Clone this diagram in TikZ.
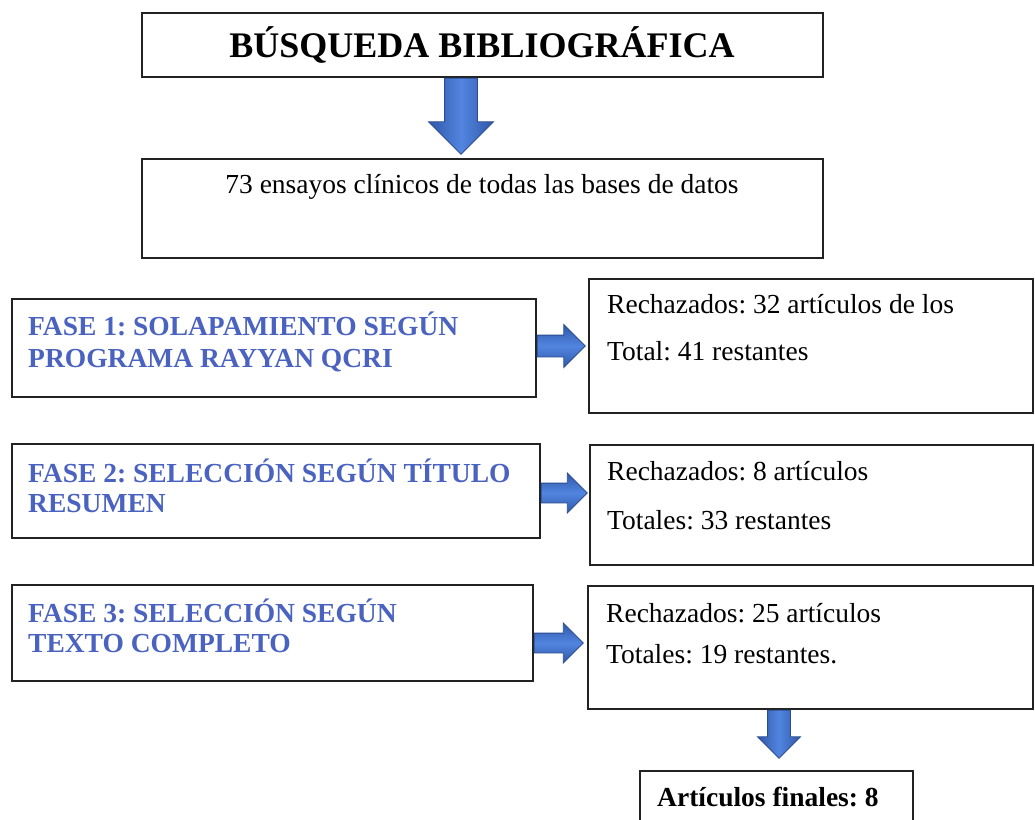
\documentclass[tikz,border=0pt]{standalone}
\usepackage{fontspec}
\setmainfont{Liberation Serif}
\frenchspacing
\usetikzlibrary{shapes.arrows,fit,calc}
\definecolor{fasecol}{HTML}{4A62C0}
\definecolor{arredge}{HTML}{2B4C8F}
\definecolor{arrdark}{HTML}{2F58A8}
\definecolor{arrlight}{HTML}{5285E0}
\definecolor{boxline}{HTML}{222222}
\begin{document}
\begin{tikzpicture}[x=1pt,y=-1pt,
  box/.style={draw=boxline, line width=1.6pt, inner sep=0pt, fill=white},
  txt/.style={inner sep=0pt, font=\fontsize{27.5pt}{33pt}\selectfont, text=black},
  fasetxt/.style={inner sep=0pt, font=\fontsize{27.5pt}{33pt}\selectfont\bfseries, text=fasecol},
  vblock/.style={shape=single arrow, single arrow tip angle=90,
     shape border rotate=270, draw=arredge, line width=0.8pt,
     left color=arrdark, right color=arrdark, middle color=arrlight},
  hblock/.style={shape=single arrow, single arrow tip angle=90,
     draw=arredge, line width=0.8pt,
     top color=arrdark, bottom color=arrdark, middle color=arrlight}
]
\useasboundingbox (0,0) rectangle (1035,819);
\clip (0,0) rectangle (1035,819);
\fill[white] (0,0) rectangle (1035,819);

% top boxes
\node[box, fit={(142,13) (823,77)}] (t) {};
\node[txt, anchor=base, font=\fontsize{36pt}{40pt}\selectfont\bfseries] (tt) at (482,57) {BÚSQUEDA BIBLIOGRÁFICA};
\node[box, fit={(142,159) (823,258)}] (b2) {};
\node[txt, anchor=base] (b2t) at (482,193) {73 ensayos clínicos de todas las bases de datos};

% phase boxes
\node[box, fit={(12,299) (536,397)}] (f1) {};
\node[fasetxt, anchor=base west] (f1a) at (28,335) {FASE 1: SOLAPAMIENTO SEGÚN};
\node[fasetxt, anchor=base west] (f1b) at (28,367) {PROGRAMA RAYYAN QCRI};
\node[box, fit={(589,279) (1033,413)}] (r1) {};
\node[txt, anchor=base west] (r1a) at (607,313) {Rechazados: 32 artículos de los};
\node[txt, anchor=base west] (r1b) at (607,360) {Total: 41 restantes};

\node[box, fit={(12,444) (540,538)}] (f2) {};
\node[fasetxt, anchor=base west] (f2a) at (28,482) {FASE 2: SELECCIÓN SEGÚN TÍTULO};
\node[fasetxt, anchor=base west] (f2b) at (28,512) {RESUMEN};
\node[box, fit={(590,445) (1033,565)}] (r2) {};
\node[txt, anchor=base west] (r2a) at (607,480) {Rechazados: 8 artículos};
\node[txt, anchor=base west] (r2b) at (607,529) {Totales: 33 restantes};

\node[box, fit={(12,585) (533,681)}] (f3) {};
\node[fasetxt, anchor=base west] (f3a) at (28,622) {FASE 3: SELECCIÓN SEGÚN};
\node[fasetxt, anchor=base west] (f3b) at (28,652) {TEXTO COMPLETO};
\node[box, fit={(588,586) (1033,709)}] (r3) {};
\node[txt, anchor=base west] (r3a) at (606,622) {Rechazados: 25 artículos};
\node[txt, anchor=base west] (r3b) at (606,663) {Totales: 19 restantes.};

\node[box, fit={(640,771) (913,835)}] (fin) {};
\node[txt, anchor=base west, font=\fontsize{27.5pt}{33pt}\selectfont\bfseries] (fint) at (657,806) {Artículos finales: 8};

% block arrows
\node[vblock, inner sep=16pt, minimum height=76pt, single arrow head extend=16pt, anchor=tail] (a0) at (461,0 |- t.south) {};
\node[hblock, inner sep=10.5pt, minimum height=48pt, single arrow head extend=10.5pt, anchor=tail] (a1) at (f1.east |- 0,346) {};
\node[hblock, inner sep=9.5pt, minimum height=46pt, single arrow head extend=10pt, anchor=tail] (a2) at (f2.east |- 0,493) {};
\node[hblock, inner sep=9.5pt, minimum height=49pt, single arrow head extend=10pt, anchor=tail] (a3) at (f3.east |- 0,643) {};
\node[vblock, inner sep=11pt, minimum height=48pt, single arrow head extend=10pt, anchor=tail] (a4) at (779,0 |- r3.south) {};
\end{tikzpicture}
\end{document}
